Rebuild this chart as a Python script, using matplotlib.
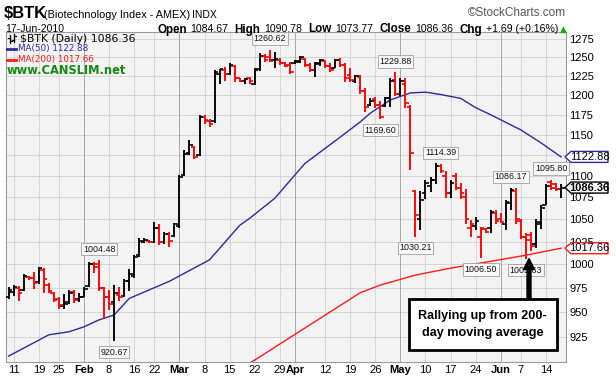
import matplotlib
matplotlib.use('Agg')
import matplotlib.pyplot as plt
import pandas as pd
from matplotlib import font_manager as fm
from matplotlib.patches import Rectangle, Polygon, FancyArrow
from matplotlib.lines import Line2D
from matplotlib.transforms import Affine2D
from matplotlib.ticker import NullLocator, FixedLocator, FixedFormatter

# ---------------- data ----------------
holidays = ['2010-01-18', '2010-02-15', '2010-04-02', '2010-05-31']
dates = [d.strftime('%Y-%m-%d') for d in pd.bdate_range('2010-01-08', '2010-06-17')
         if d.strftime('%Y-%m-%d') not in holidays]

opens = [966, 971, 975, 973, 987, 985, 981, 994, 978, 970, 963, 956, 960, 971, 963,
         966, 977, 1000, 1000, 975, 965, 960, 968, 967, 982, 988, 1010, 1025, 1026,
         1024, 1040, 1024, 1033, 1031, 1042, 1101, 1128, 1135, 1125, 1172, 1167, 1167,
         1228, 1233, 1228, 1239, 1222, 1218, 1222, 1215, 1235, 1252, 1250, 1247, 1247,
         1242, 1240, 1242, 1244, 1248, 1240, 1233, 1241, 1245, 1239, 1236, 1246, 1240,
         1226, 1219, 1224, 1205, 1188, 1195, 1188, 1186, 1196, 1220, 1201, 1215, 1185,
         1082, 1050, 1080, 1088, 1095, 1112, 1100, 1080, 1100, 1086, 1075, 1040, 1042,
         1030, 1039, 1040, 1057, 1050, 1045, 1068, 1082, 1048, 1030, 1032, 1022, 1045,
         1066, 1093, 1090, 1084.67]
highs = [976, 978, 977, 990, 988, 992, 997, 996, 980, 971, 966, 969, 973, 973, 970,
         976, 1003, 1003, 1004.48, 976, 973, 978, 976, 984, 995, 1010, 1029, 1029, 1027,
         1047, 1044, 1036, 1036, 1046, 1101, 1131, 1143, 1136, 1175, 1175, 1170, 1233,
         1235, 1237, 1242, 1240, 1223, 1223, 1224, 1236, 1256, 1255, 1260.62, 1257, 1249,
         1244, 1244, 1246, 1252, 1249, 1242, 1244, 1248, 1246, 1242, 1248, 1249, 1242,
         1236, 1227, 1227, 1209, 1196, 1198, 1192, 1198, 1222, 1229.88, 1223, 1222, 1187,
         1084, 1082, 1095, 1099, 1115, 1114.39, 1106, 1095, 1104, 1092, 1085, 1049, 1053,
         1041, 1040, 1060, 1060, 1057, 1072, 1086.17, 1086, 1050, 1035, 1036, 1050, 1066,
         1090, 1095.80, 1092, 1090.78]
lows = [963, 967, 961, 972, 983, 974, 979, 970, 970, 960, 953, 953, 958, 959, 960,
        965, 976, 991, 972, 943, 952, 920.67, 961, 966, 972, 986, 1008, 1023, 1023,
        1023, 1021, 1022, 1019, 1030, 1040, 1100, 1125, 1120, 1124, 1163, 1160, 1165,
        1215, 1219, 1227, 1217, 1217, 1215, 1214, 1213, 1232, 1244, 1244, 1236, 1240,
        1237, 1228, 1241, 1243, 1237, 1230, 1224, 1239, 1236, 1230, 1236, 1237, 1217,
        1217, 1216, 1202, 1178, 1186, 1184, 1169.60, 1185, 1185, 1199, 1199, 1184, 1107,
        1030.21, 1038, 1073, 1081, 1091, 1104, 1074, 1074, 1083, 1073, 1045, 1030, 1038,
        1006.50, 1034, 1034, 1044, 1046, 1038, 1060, 1045, 1028, 1005.63, 1015, 1018,
        1039, 1066, 1083, 1082, 1073.77]
closes = [973, 976, 970, 988, 985, 980, 996, 984, 972, 962, 957, 958, 970, 962, 966,
          974, 1001, 997, 975, 965, 958, 970, 966, 982, 990, 1008, 1026, 1027, 1024,
          1040, 1024, 1033, 1026, 1044, 1099, 1126, 1137, 1123, 1172, 1168, 1164, 1230,
          1235, 1228, 1240, 1222, 1218, 1221, 1219, 1233, 1252, 1247, 1245, 1248, 1242,
          1239, 1230, 1245, 1250, 1240, 1233, 1242, 1246, 1239, 1233, 1246, 1240, 1222,
          1220, 1225, 1206, 1185, 1193, 1188, 1172, 1196, 1218, 1201, 1218, 1190, 1127,
          1055, 1072, 1092, 1095, 1112, 1106, 1080, 1092, 1086, 1080, 1050, 1045, 1048,
          1040, 1036, 1058, 1048, 1047, 1070, 1083, 1050, 1030, 1027, 1020, 1047, 1063,
          1088, 1086, 1084.67, 1086.36]

ma50_dates = ['2010-01-08', '2010-01-15', '2010-01-21', '2010-01-27', '2010-02-01',
              '2010-02-04', '2010-02-09', '2010-02-12', '2010-02-25', '2010-03-09',
              '2010-03-17', '2010-03-19', '2010-03-26', '2010-04-06', '2010-04-15',
              '2010-04-21', '2010-04-23', '2010-04-29', '2010-05-05', '2010-05-10',
              '2010-05-13', '2010-05-19', '2010-05-24', '2010-05-27', '2010-06-07',
              '2010-06-11', '2010-06-17']
ma50_vals = [906, 919, 927, 930, 935, 942, 947, 964, 982, 1005, 1043, 1051, 1074, 1115,
             1147, 1166, 1177, 1194, 1203, 1204, 1201, 1196, 1184, 1175, 1156, 1140,
             1122.88]
ma200_dates = ['2010-03-19', '2010-03-30', '2010-04-21', '2010-04-27', '2010-05-06',
               '2010-05-17', '2010-05-25', '2010-06-08', '2010-06-17']
ma200_vals = [899, 921, 970, 978, 988.6, 996, 1001.5, 1010, 1017.66]

tick_dates = ['2010-01-11', '2010-01-19', '2010-01-25', '2010-02-01', '2010-02-08',
              '2010-02-16', '2010-02-22', '2010-03-01', '2010-03-08', '2010-03-15',
              '2010-03-22', '2010-03-29', '2010-04-01', '2010-04-12', '2010-04-19',
              '2010-04-26', '2010-05-03', '2010-05-10', '2010-05-17', '2010-05-24',
              '2010-06-01', '2010-06-07', '2010-06-14']
tick_labels = ['11', '19', '25', 'Feb', '8', '16', '22', 'Mar', '8', '15', '22', '29',
               'Apr', '12', '19', '26', 'May', '10', '17', '24', 'Jun', '7', '14']
month_labels = ['Feb', 'Mar', 'Apr', 'May', 'Jun']
price_ticks = [925, 950, 975, 1000, 1025, 1050, 1075, 1100, 1125, 1150, 1175, 1200,
               1225, 1250, 1275]
hidden_price_labels = [1125]   # fully covered by the MA(50) value tag

note_dates = ['2010-02-04', '2010-02-09', '2010-03-25', '2010-04-27', '2010-04-30',
              '2010-05-06', '2010-05-13', '2010-05-25', '2010-06-03', '2010-06-08',
              '2010-06-15']
note_values = [1004.48, 920.67, 1260.62, 1169.60, 1229.88, 1030.21, 1114.39, 1006.50,
               1086.17, 1005.63, 1095.80]
note_above = [True, False, True, False, True, False, True, False, True, False, True]

last_close = 1086.36
last_ma50 = 1122.88
last_ma200 = 1017.66

# ---------------- fonts ----------------
names = {f.name for f in fm.fontManager.ttflist}
HAS_NARROW = 'Liberation Sans Narrow' in names
NAR = 'Liberation Sans Narrow' if HAS_NARROW else 'Liberation Sans'
NS = 1.0 if HAS_NARROW else 0.84
ARIAL = 'Liberation Sans'

W, H = 616, 380
fig = plt.figure(figsize=(W / 100, H / 100), dpi=100)
fig.patch.set_facecolor('white')
px = Affine2D().scale(1, -1).translate(0, H)   # pixel coords, origin top-left


def fx(x):
    return x / W


def fy(y):
    return 1 - y / H


L_, R_, T_, B_ = 5.7, 566, 32, 362
X0, STEP = 8.67, 5.022
ax = fig.add_axes([fx(L_), fy(B_), (R_ - L_) / W, (B_ - T_) / H])
ax.set_facecolor('#f3f3f3')
pos = {d: i for i, d in enumerate(dates)}
xs = list(range(len(dates)))
ax.set_xlim((L_ - X0) / STEP, (R_ - X0) / STEP)
ax.set_yscale('log')
ax.set_ylim(900.2, 1284.66)

# grid
for v in price_ticks:
    ax.axhline(v, color='#d6d6d6', lw=0.7, zorder=0.5)
for d, lab in zip(tick_dates, tick_labels):
    c = '#a8a8a8' if lab in month_labels else '#d6d6d6'
    ax.axvline(pos[d], color=c, lw=0.7, zorder=0.5)

# OHLC bars
colors = []
for i in range(len(closes)):
    if i == 0 or closes[i] >= closes[i - 1]:
        colors.append('black')
    else:
        colors.append('#ff0000')
tw = 0.72
ax.vlines(xs, lows, highs, colors=colors, lw=1.35, zorder=3)
ax.hlines(opens, [x - tw for x in xs], xs, colors=colors, lw=1.2, zorder=3)
ax.hlines(closes, xs, [x + tw for x in xs], colors=colors, lw=1.2, zorder=3)

# moving averages
ax.plot([pos[d] for d in ma50_dates], ma50_vals, color='#2b2b9c', lw=1.0, zorder=2)
ax.plot([pos[d] for d in ma200_dates], ma200_vals, color='#ff1a1a', lw=1.0, zorder=2)

# axes formatting
ax.yaxis.tick_right()
ax.yaxis.set_major_locator(FixedLocator(price_ticks))
ax.yaxis.set_major_formatter(FixedFormatter(
    ['' if v in hidden_price_labels else str(v) for v in price_ticks]))
ax.yaxis.set_minor_locator(NullLocator())
ax.tick_params(axis='y', length=0, pad=2.5, labelsize=8)
ax.set_xticks([pos[d] for d in tick_dates])
ax.set_xticklabels(tick_labels)
ax.tick_params(axis='x', length=0, pad=2.5, labelsize=8)
for t in ax.get_xticklabels() + ax.get_yticklabels():
    t.set_family(ARIAL)
for t in ax.get_xticklabels():
    if t.get_text() in month_labels:
        t.set_fontweight('bold')
for s in ax.spines.values():
    s.set_color('#9a9a9a')
    s.set_linewidth(0.8)

# price notes
for d, v, up in zip(note_dates, note_values, note_above):
    ax.annotate(f'{v:.2f}', xy=(pos[d], v), xytext=(0, 11 if up else -11),
                textcoords='offset pixels', ha='center', va='center',
                fontsize=7 * NS + (0 if HAS_NARROW else 0.5), family=NAR, color='#111111',
                zorder=6,
                bbox=dict(boxstyle='square,pad=0.18', fc='#f8f8f8', ec='#a0a0a0', lw=0.6))

fig.canvas.draw()
renderer = fig.canvas.get_renderer()


def ypix(v):
    return H - ax.transData.transform((0, v))[1]


# right-hand value tags
for val, ec, bold in [(last_ma50, '#2b2b9c', False), (last_close, 'black', True),
                      (last_ma200, '#ff1a1a', False)]:
    yc = ypix(val)
    poly = Polygon([(565, yc), (571, yc - 5.5), (608, yc - 5.5), (608, yc + 5.5),
                    (571, yc + 5.5)], closed=True, fc='white', ec=ec, lw=1.0,
                   transform=px, zorder=10)
    fig.add_artist(poly)
    fig.text(fx(589.5), fy(yc), f'{val:.2f}', ha='center', va='center', fontsize=8,
             family=ARIAL, fontweight='bold' if bold else 'normal', zorder=11)

# header
fig.text(fx(4), fy(13.5), r'\$BTK', fontsize=13 * NS + (0 if HAS_NARROW else 1), family=NAR,
         fontweight='bold', va='center')
fig.text(fx(44), fy(14.5), '(Biotechnology Index - AMEX)', fontsize=9 * NS + (0 if HAS_NARROW else 0.3),
         family=NAR, va='center')
fig.text(fx(192), fy(14.5), 'INDX', fontsize=7.5, family=ARIAL, va='center')
fig.text(fx(566), fy(13.5), '\u00a9StockCharts.com', fontsize=8.5, family=ARIAL,
         va='center', ha='right', color='#555555')
fig.text(fx(5), fy(29.5), '17-Jun-2010', fontsize=8.5 * NS + (0 if HAS_NARROW else 0.4),
         family=NAR, va='center')

# quote line laid out piece by piece
pieces = [('Open', True), ('1084.67', False), ('High', True), ('1090.78', False),
          ('Low', True), ('1073.77', False), ('Close', True), ('1086.36', False),
          ('Chg', True), ('+1.69 (+0.16%)', False)]
xcur = 157.0
for txt, b in pieces:
    t = fig.text(fx(xcur), fy(29.5), txt,
                 fontsize=(9.6 if b else 8.6) * NS + (0 if HAS_NARROW else 0.3),
                 family=NAR, fontweight='bold' if b else 'normal', va='center')
    w = t.get_window_extent(renderer).width
    xcur += w + (3.5 if b else 6.5)
fig.text(fx(xcur - 4), fy(29.5), '\u25b2', fontsize=6.5, color='#11aa11', va='center',
         family='DejaVu Sans')

# legend inside chart
for seg in [((10, 35), (10, 43)), ((8, 38), (10, 38)), ((10, 41), (12, 41)),
            ((14, 34), (14, 42)), ((12, 40), (14, 40)), ((14, 36), (16, 36))]:
    fig.add_artist(Line2D([seg[0][0], seg[1][0]], [seg[0][1], seg[1][1]], color='black',
                          lw=0.9, transform=px, zorder=8))
fig.text(fx(20), fy(38.5), r'\$BTK (Daily) 1086.36', fontsize=7.8, family='DejaVu Sans',
         va='center', zorder=8)
fig.add_artist(Line2D([7, 16], [48.5, 48.5], color='#2b2b9c', lw=2.0, transform=px, zorder=8))
fig.text(fx(18.5), fy(48.7), 'MA(50) 1122.88', fontsize=6.3, family='DejaVu Sans',
         va='center', color='#2b2b9c', zorder=8)
fig.add_artist(Line2D([7, 16], [59.5, 59.5], color='#ff1a1a', lw=2.0, transform=px, zorder=8))
fig.text(fx(18.5), fy(59.7), 'MA(200) 1017.66', fontsize=6.3, family='DejaVu Sans',
         va='center', color='#ff1a1a', zorder=8)
fig.text(fx(7), fy(70.5), 'www.CANSLIM.net', fontsize=8.3, family='DejaVu Sans',
         fontweight='bold', va='center', color='#148a14', zorder=8)

# callout box and arrow
fig.add_artist(Rectangle((408.5, 299), 148.5, 51, fc='white', ec='black', lw=2.0,
                         transform=px, zorder=12))
fig.text(fx(482.5), fy(315.5), 'Rallying up from 200-', fontsize=10.5 * NS + (0 if HAS_NARROW else 0.3),
         family=NAR, fontweight='bold', ha='center', va='center', zorder=13)
fig.text(fx(482.5), fy(333), 'day moving average', fontsize=10.5 * NS + (0 if HAS_NARROW else 0.3),
         family=NAR, fontweight='bold', ha='center', va='center', zorder=13)
fig.add_artist(FancyArrow(529, 299, 0, -40.5, width=4, head_width=11, head_length=11,
                          length_includes_head=True, fc='black', ec='black',
                          transform=px, zorder=12))

fig.savefig('out.png', dpi=100)
